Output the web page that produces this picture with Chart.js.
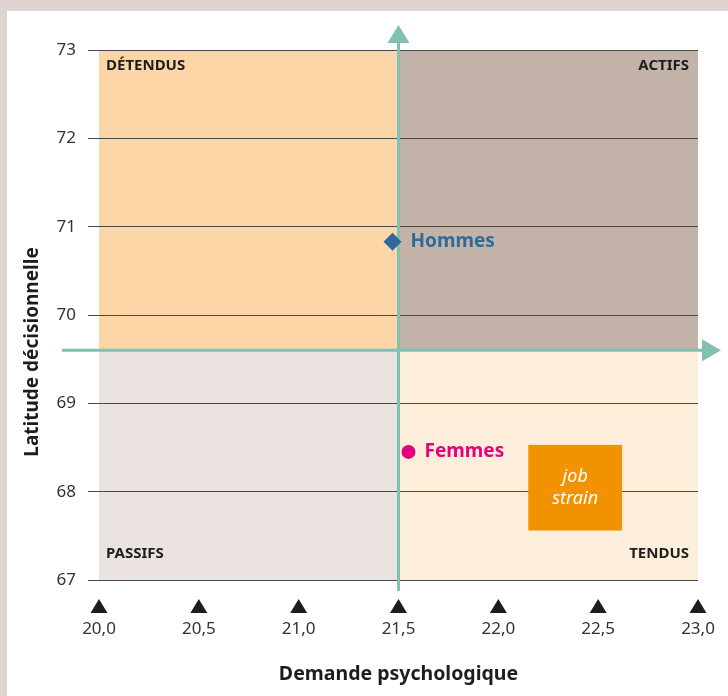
<!DOCTYPE html>
<html><head><meta charset="utf-8">
<script src="https://cdn.jsdelivr.net/npm/chart.js@4"></script>
<style>html,body{margin:0;padding:0;background:#dfd3cf;} canvas{display:block}</style>
</head><body>
<canvas id="c" width="728" height="696"></canvas>
<script>
// ---- data ----
const groups = ['Hommes', 'Femmes'];
const demandePsy = [21.47, 21.55];
const latitudeDec = [70.83, 68.45];
const groupColors = ['#2e6b98', '#e5007d'];
const groupShapes = ['rectRot', 'circle'];
const groupRadius = [9, 7];
const xTickValues = [20.0, 20.5, 21.0, 21.5, 22.0, 22.5, 23.0];
const yTickValues = [67, 68, 69, 70, 71, 72, 73];
const splitX = 21.5;
const splitY = 69.6;
const quadrantNames = ['DÉTENDUS', 'ACTIFS', 'PASSIFS', 'TENDUS'];
const quadrantX = [[20, 21.5], [21.5, 23], [20, 21.5], [21.5, 23]];
const quadrantY = [[69.6, 73], [69.6, 73], [67, 69.6], [67, 69.6]];
const quadrantColors = ['#fcd6a6', '#c4b3a9', '#ebe3e0', '#fdeedb'];
const jobStrainX = [22.15, 22.62];
const jobStrainY = [67.56, 68.53];
const jobStrainText = ['job', 'strain'];

const FONT = '"Noto Sans", "Open Sans", sans-serif';
const TEAL = '#80c1b2';

const bgPlugin = {
  id: 'bg',
  beforeDraw(chart) {
    const ctx = chart.ctx, x = chart.scales.x, y = chart.scales.y;
    ctx.save();
    ctx.fillStyle = '#dfd3cf';
    ctx.fillRect(0, 0, chart.width, chart.height);
    ctx.fillStyle = '#ffffff';
    ctx.fillRect(7, 11, chart.width - 7, chart.height - 11);
    for (let i = 0; i < quadrantNames.length; i++) {
      const x0 = x.getPixelForValue(quadrantX[i][0]), x1 = x.getPixelForValue(quadrantX[i][1]);
      const y0 = y.getPixelForValue(quadrantY[i][1]), y1 = y.getPixelForValue(quadrantY[i][0]);
      ctx.fillStyle = quadrantColors[i];
      ctx.fillRect(x0, y0, x1 - x0, y1 - y0);
    }
    ctx.restore();
  },
  beforeDatasetsDraw(chart) {
    const ctx = chart.ctx, x = chart.scales.x, y = chart.scales.y, a = chart.chartArea;
    ctx.save();
    // job strain box
    const bx0 = x.getPixelForValue(jobStrainX[0]), bx1 = x.getPixelForValue(jobStrainX[1]);
    const by0 = y.getPixelForValue(jobStrainY[1]), by1 = y.getPixelForValue(jobStrainY[0]);
    ctx.fillStyle = '#f39200';
    ctx.fillRect(bx0, by0, bx1 - bx0, by1 - by0);
    ctx.fillStyle = '#ffffff';
    ctx.font = 'italic 18px ' + FONT;
    ctx.textAlign = 'center';
    ctx.textBaseline = 'middle';
    const bcx = (bx0 + bx1) / 2, bcy = (by0 + by1) / 2;
    ctx.fillText(jobStrainText[0], bcx, bcy - 11);
    ctx.fillText(jobStrainText[1], bcx, bcy + 11);

    // teal axes with arrows
    const sx = x.getPixelForValue(splitX), sy = y.getPixelForValue(splitY);
    ctx.strokeStyle = TEAL; ctx.fillStyle = TEAL; ctx.lineWidth = 3;
    ctx.beginPath();
    ctx.moveTo(sx, a.bottom + 11); ctx.lineTo(sx, a.top - 8);
    ctx.moveTo(62, sy); ctx.lineTo(a.right + 5, sy);
    ctx.stroke();
    ctx.beginPath();
    ctx.moveTo(sx, a.top - 25); ctx.lineTo(sx - 11, a.top - 7); ctx.lineTo(sx + 11, a.top - 7); ctx.closePath();
    ctx.fill();
    ctx.beginPath();
    ctx.moveTo(a.right + 23, sy); ctx.lineTo(a.right + 4, sy - 11); ctx.lineTo(a.right + 4, sy + 11); ctx.closePath();
    ctx.fill();

    // quadrant labels
    ctx.fillStyle = '#1d1d1b';
    ctx.font = 'bold 15px ' + FONT;
    ctx.textBaseline = 'middle';
    ctx.textAlign = 'left';
    ctx.fillText(quadrantNames[0], a.left + 7, a.top + 16);
    ctx.fillText(quadrantNames[2], a.left + 7, a.bottom - 26);
    ctx.textAlign = 'right';
    ctx.fillText(quadrantNames[1], a.right - 9, a.top + 16);
    ctx.fillText(quadrantNames[3], a.right - 9, a.bottom - 26);

    // triangle tick marks on x axis
    ctx.fillStyle = '#1d1d1b';
    x.ticks.forEach(t => {
      const px = x.getPixelForValue(t.value);
      ctx.beginPath();
      ctx.moveTo(px, a.bottom + 19);
      ctx.lineTo(px - 8.5, a.bottom + 33);
      ctx.lineTo(px + 8.5, a.bottom + 33);
      ctx.closePath();
      ctx.fill();
    });

    // y title
    ctx.save();
    ctx.translate(33, 352);
    ctx.rotate(-Math.PI / 2);
    ctx.font = 'bold 19px ' + FONT;
    ctx.textAlign = 'center';
    ctx.textBaseline = 'middle';
    ctx.fillStyle = '#1d1d1b';
    ctx.fillText('Latitude décisionnelle', 0, 0);
    ctx.restore();
    ctx.restore();
  },
  afterDatasetsDraw(chart) {
    const ctx = chart.ctx;
    ctx.save();
    ctx.font = 'bold 19px ' + FONT;
    ctx.textAlign = 'left';
    ctx.textBaseline = 'middle';
    chart.data.datasets.forEach((ds, i) => {
      const el = chart.getDatasetMeta(i).data[0];
      ctx.fillStyle = groupColors[i];
      ctx.fillText(groups[i], el.x + groupRadius[i] + 9, el.y);
    });
    ctx.restore();
  }
};

const datasets = groups.map((g, i) => ({
  label: g,
  data: [{ x: demandePsy[i], y: latitudeDec[i] }],
  pointStyle: groupShapes[i],
  pointRadius: groupRadius[i],
  backgroundColor: groupColors[i],
  borderColor: groupColors[i],
  borderWidth: 0
}));

new Chart(document.getElementById('c'), {
  type: 'scatter',
  data: { datasets },
  plugins: [bgPlugin],
  options: {
    responsive: false,
    animation: false,
    events: [],
    layout: { padding: { left: 0, top: 50, right: 30, bottom: 0 } },
    plugins: { legend: { display: false }, tooltip: { enabled: false } },
    scales: {
      x: {
        type: 'linear', min: 20, max: 23,
        afterBuildTicks: s => { s.ticks = xTickValues.map(v => ({ value: v })); },
        afterFit: s => { s.height = 116; },
        grid: { display: true, color: 'rgba(0,0,0,0)', drawOnChartArea: false, drawTicks: true, tickLength: 37 },
        border: { display: false },
        ticks: {
          padding: 2,
          color: '#333333',
          font: { family: FONT, size: 17 },
          callback: v => Number(v).toFixed(1).replace('.', ','),
          maxRotation: 0, autoSkip: false
        },
        title: {
          display: true, text: 'Demande psychologique', color: '#1d1d1b',
          font: { family: FONT, size: 19.5, weight: 'bold' },
          padding: { top: 0, bottom: 10 }
        }
      },
      y: {
        type: 'linear', min: 67, max: 73,
        afterBuildTicks: s => { s.ticks = yTickValues.map(v => ({ value: v })); },
        afterFit: s => { s.width = 99; },
        grid: { color: '#4a4a4a', lineWidth: 1, tickLength: 11, drawTicks: true },
        border: { display: false },
        ticks: {
          padding: 12,
          color: '#333333',
          font: { family: FONT, size: 17 },
          callback: v => String(v)
        }
      }
    }
  }
});
</script>
</body></html>
